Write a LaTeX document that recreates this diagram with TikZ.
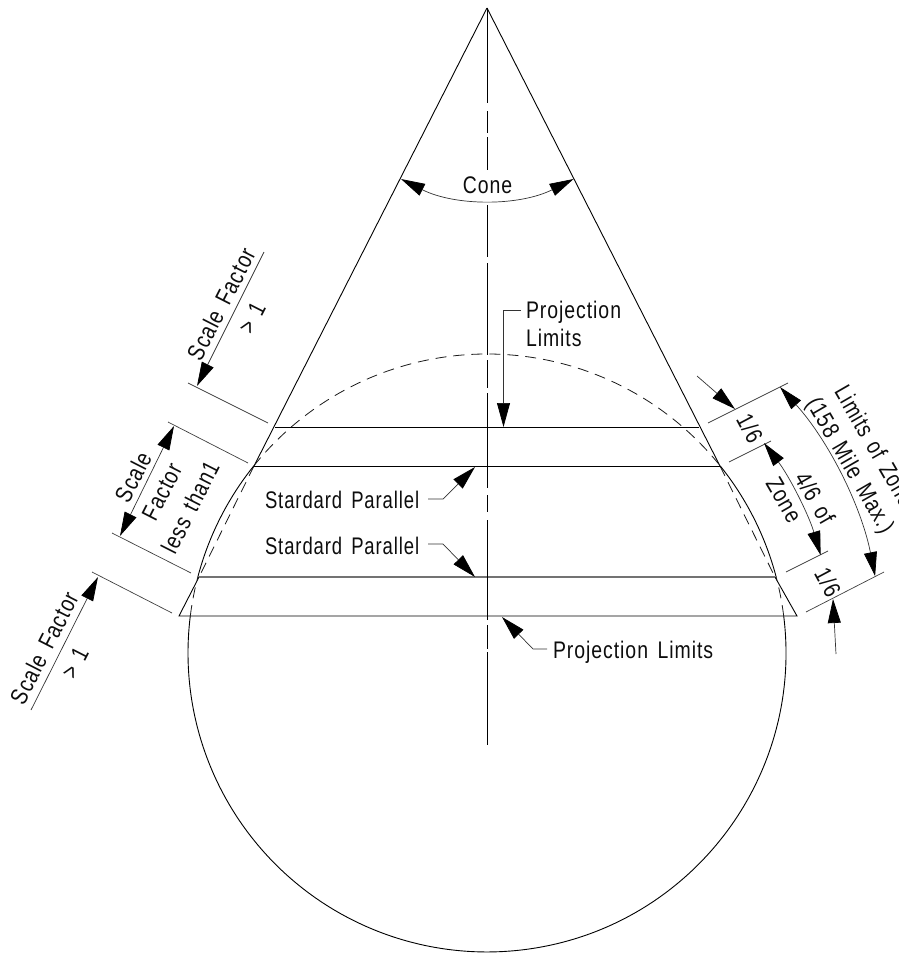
\documentclass[tikz,border=0pt]{standalone}
\usepackage{fontspec}
\setmainfont{Liberation Sans}[FakeStretch=0.81,LetterSpace=4,WordSpace=1.5]
\usetikzlibrary{arrows.meta}
\tikzset{
  main/.style={black,line width=0.9pt},
  thick gray/.style={black!55,line width=1.3pt},
  circ dash/.style={black!90,line width=0.8pt,dash pattern=on 11pt off 7pt},
  ext/.style={black!75,line width=0.7pt},
  dim/.style={black!80,line width=0.7pt},
  tip/.style={-{Triangle[length=24pt,width=13pt,color=black,fill=black]}},
  tips/.style={{Triangle[length=24pt,width=13pt,color=black,fill=black]}-{Triangle[length=24pt,width=13pt,color=black,fill=black]}},
  lab/.style={inner sep=0pt,outer sep=0pt,font=\fontsize{24}{28}\selectfont,text=black!95},
}
\begin{document}
\begin{tikzpicture}[x=1pt,y=-1pt]
\useasboundingbox (0,0) rectangle (899,954);
\clip (0,0) rectangle (899,954);
% key points
\coordinate (apex) at (487,8);
\coordinate (center) at (487,653);
\coordinate (L1) at (275,427); \coordinate (R1) at (699,427);
\coordinate (L2) at (254,466); \coordinate (R2) at (720,466);
\coordinate (L3) at (199,577); \coordinate (R3) at (775,577);
\coordinate (L4) at (179,616); \coordinate (R4) at (797,616);
\coordinate (cenEnd) at (487,745);
% cone
\draw[main] (apex) -- (L2);
\draw[main] (apex) -- (R2);
\draw[main] (L3) -- (L4) -- (R4) -- (R3);
\draw[main] (L1) -- (R1);
\draw[main] (L2) -- (R2);
\draw[thick gray] (L3) -- (R3);
\draw[circ dash] (L2) -- (L3);
\draw[circ dash] (R2) -- (R3);
% sphere
\draw[main] (783.7,616) arc[start angle=-7.1,end angle=187.1,radius=299];
\draw[main] (253.7,466) arc[start angle=218.71,end angle=194.72,radius=299];
\draw[main] (720.3,466) arc[start angle=321.29,end angle=345.28,radius=299];
\draw[circ dash] (253.7,466) arc[start angle=218.71,end angle=321.29,radius=299];
\draw[circ dash] (190.3,616) arc[start angle=187.1,end angle=194.72,radius=299];
\draw[circ dash] (783.7,616) arc[start angle=352.9,end angle=345.28,radius=299];
% centre line
\draw[main] (apex) -- (487,103) (487,111) -- (487,133) (487,137) -- (487,170)
  (487,205) -- (487,257) (487,263) -- (487,355) (487,360) -- (487,388)
  (487,393) -- (487,488) (487,495) -- (487,512) (487,520) -- (487,620)
  (487,625) -- (487,649) (487,652) -- (cenEnd);
% cone angle
\draw[dim,tips] (401,179) arc[start angle=116.7,end angle=63.3,radius=192];
\node[lab] (cone) at (487.5,185) {Cone};
% projection limits upper
\node[lab,anchor=base west,align=left] (plu) at (526,318) {Projection};
\node[lab,anchor=base west,align=left] (plv) at (526,346) {Limits};
\coordinate (plu1) at (521,310); \coordinate (plu2) at (503.5,310); \coordinate (plu3) at (503.5,427);
\draw[dim,tip] (plu1) -- (plu2) -- (plu3);
% standard parallels
\node[lab,anchor=base west,xscale=0.95] (sp1) at (265,508) {Stardard Parallel};
\node[lab,anchor=base west,xscale=0.95] (sp2) at (265,554) {Stardard Parallel};
\coordinate (a1) at (428,499); \coordinate (a2) at (443,499); \coordinate (a3) at (475,467);
\coordinate (b1) at (428,544); \coordinate (b2) at (443,544); \coordinate (b3) at (475,577);
\draw[dim,tip] (a1) -- (a2) -- (a3);
\draw[dim,tip] (b1) -- (b2) -- (b3);
% projection limits lower
\node[lab,anchor=base west] (pll) at (553,658) {Projection Limits};
\coordinate (c1) at (547,649); \coordinate (c2) at (533,649); \coordinate (c3) at (502,617);
\draw[dim,tip] (c1) -- (c2) -- (c3);
% left extension lines
\draw[ext] (188,383) -- (268,423);
\draw[ext] (168,422) -- (248,463);
\draw[ext] (112,533) -- (191,573);
\draw[ext] (92,572) -- (172,613);
% left dimension arrows
\coordinate (d1) at (264,252); \coordinate (d2) at (197,386);
\draw[dim,tip] (d1) -- (d2);
\coordinate (e1) at (174,426); \coordinate (e2) at (120,536);
\draw[dim,tips] (e1) -- (e2);
\coordinate (f1) at (31,710); \coordinate (f2) at (98,577);
\draw[dim,tip] (f1) -- (f2);
\node[lab,rotate=63] (sf1) at (221,304) {Scale Factor};
\node[lab,rotate=63] (gt1) at (252,318) {> 1};
\node[lab,rotate=63] (s2) at (133,477) {Scale};
\node[lab,rotate=63] (s3) at (162,492) {Factor};
\node[lab,rotate=63] (s4) at (190,507) {less than1};
\node[lab,rotate=63] (sf2) at (44,648) {Scale Factor};
\node[lab,rotate=63] (gt2) at (75,663) {> 1};
% right extension lines
\draw[ext] (708,423) -- (788,383);
\draw[ext] (729,462) -- (771,441);
\draw[ext] (786,572) -- (828,551);
\draw[ext] (806,612) -- (884,572);
% right dimension arrows
\coordinate (g1) at (697,376); \coordinate (g2) at (735,409);
\draw[dim,tip] (g1) -- (g2);
\coordinate (h1) at (836,654); \coordinate (h2) at (833,599);
\draw[dim,tip] (h1) -- (h2);
\draw[dim,tips] (780,387) arc[start angle=-42.2,end angle=-11.2,radius=396];
\draw[dim,tips] (764,443) arc[start angle=-37.2,end angle=-16.4,radius=348];
\node[lab,rotate=-62] (o1) at (750,428) {1/6};
\node[lab,rotate=-62] (o2) at (828,582) {1/6};
\node[lab,rotate=-60] (f46) at (815,498) {4/6 of};
\node[lab,rotate=-60] (zn) at (784,500) {Zone};
\node[lab,rotate=-60,xscale=0.97] (lz) at (875,446) {Limits of Zone};
\node[lab,rotate=-60] (mm) at (849,466) {(158 Mile Max.)};
\end{tikzpicture}
\end{document}
